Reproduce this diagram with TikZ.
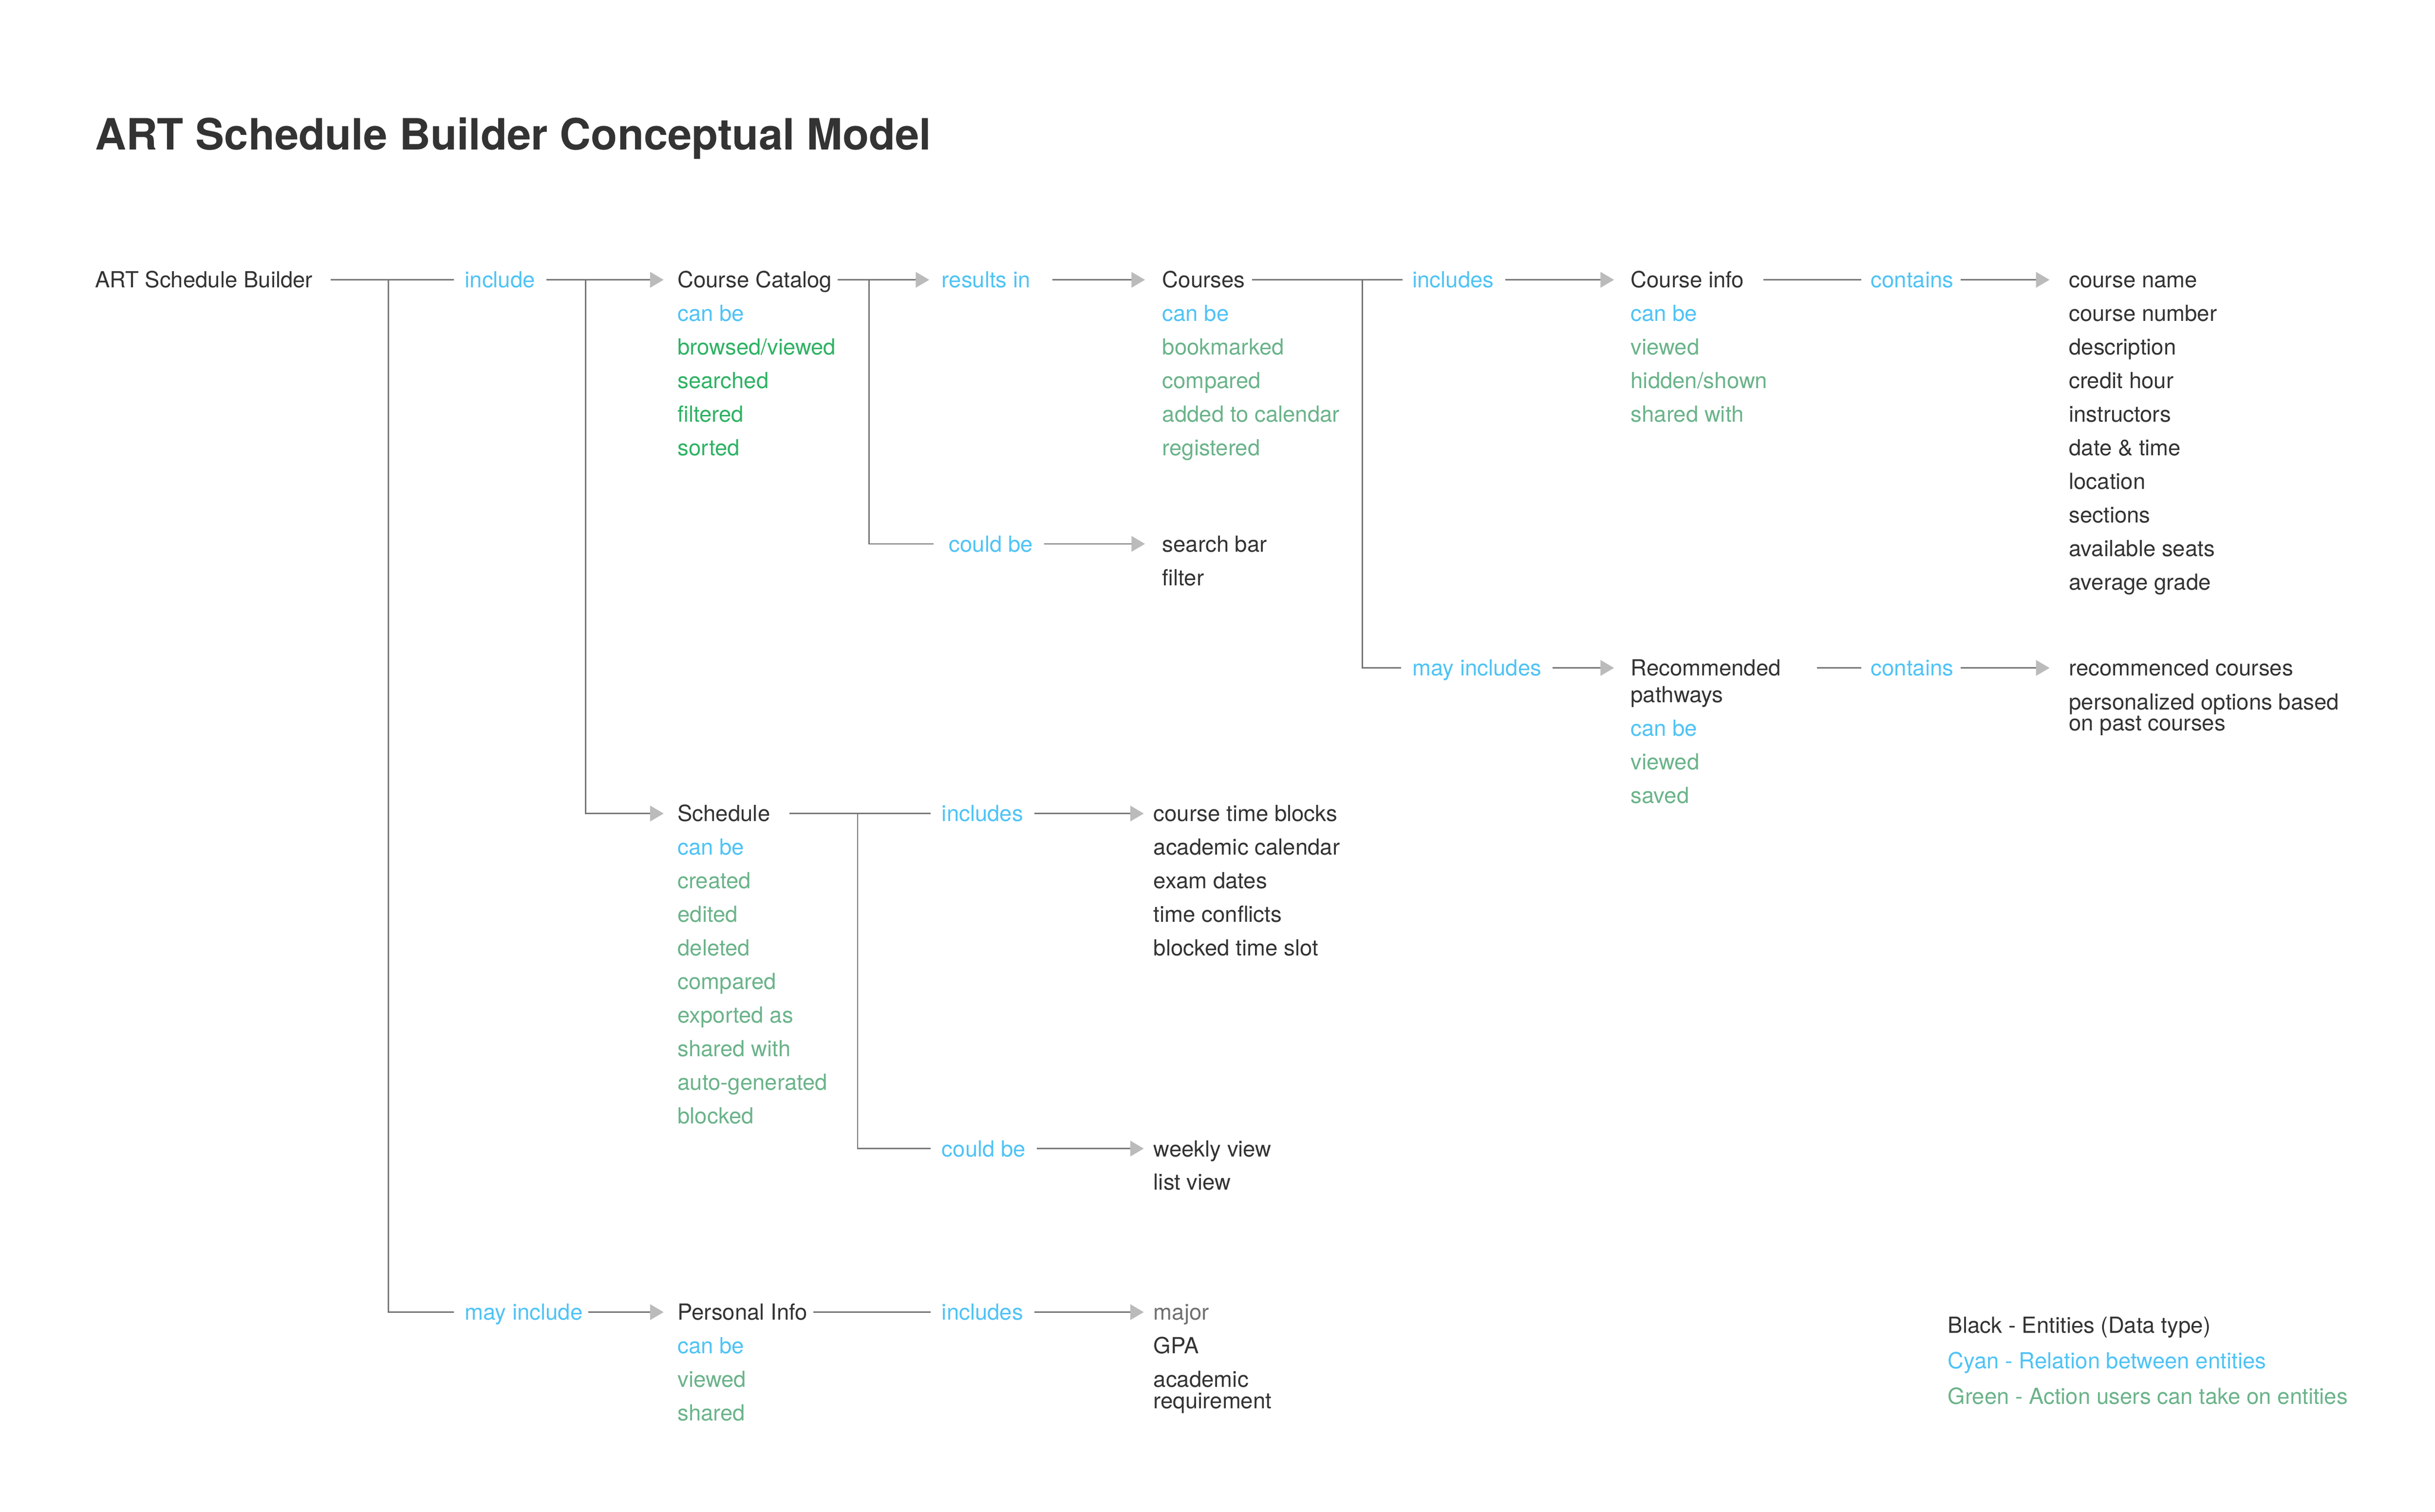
\documentclass[tikz,border=0pt]{standalone}
\usepackage{fontspec}
\setmainfont{TeX Gyre Heros}
\usetikzlibrary{arrows.meta}
\definecolor{ink}{HTML}{333333}
\definecolor{sky}{HTML}{4FC3F5}
\definecolor{leaf}{HTML}{2EB264}
\definecolor{moss}{HTML}{6BB38A}
\definecolor{wire}{HTML}{767676}
\definecolor{tipgray}{HTML}{BBBBBB}
\definecolor{faded}{HTML}{707070}
\newcommand{\bodyfont}{\fontsize{16.2}{19}\selectfont}
\tikzset{
  entity/.style={anchor=west, inner sep=0pt, text height=11.6pt, text depth=0pt, text=ink, font=\bodyfont},
  relation/.style={entity, text=sky},
  action/.style={entity, text=moss},
  link/.style={draw=wire, line width=0.9pt, shorten <=8pt, shorten >=8pt},
  arrowlink/.style={link, -{Triangle[length=9.9pt, width=11.4pt, color=tipgray]}, shorten >=10pt},
  branch/.style={link, shorten <=0pt}
}
\begin{document}
\begin{tikzpicture}[x=0.04006cm, y=-0.04006cm]
  \useasboundingbox (0,0) rectangle (1560.2,968.8);
  \node[anchor=base west, inner sep=0pt, text=ink, font=\fontsize{31.5}{36}\selectfont\bfseries] (title) at (60.7,95.9) {ART Schedule Builder Conceptual Model};

  % first row
  \node[entity] (asb) at (60.7,179.3) {ART Schedule Builder};
  \node[relation] (inc) at (297.7,179.3) {include};
  \node[entity] (cc) at (434,179.3) {Course Catalog};
  \node[relation] (res) at (603.3,179.3) {results in};
  \node[entity] (crs) at (744.6,179.3) {Courses};
  \node[relation] (incs) at (904.9,179.3) {includes};
  \node[entity] (cinfo) at (1044.7,179.3) {Course info};
  \node[relation] (cont) at (1198.6,179.3) {contains};
  \foreach \lbl [count=\i] in {course name, course number, description, credit hour, instructors, date \& time, location, sections, available seats, average grade}
    \node[entity] (ci\i) at (1325.5, {157.8+21.5*\i}) {\lbl};

  \node[relation] (cccan) at (434,200.8) {can be};
  \foreach \lbl [count=\i] in {{browsed/viewed}, searched, filtered, sorted}
    \node[action, text=leaf] (cc\i) at (434, {200.8+21.5*\i}) {\lbl};
  \node[relation] (crscan) at (744.6,200.8) {can be};
  \foreach \lbl [count=\i] in {bookmarked, compared, added to calendar, registered}
    \node[action] (crs\i) at (744.6, {200.8+21.5*\i}) {\lbl};
  \node[relation] (cinfocan) at (1044.7,200.8) {can be};
  \foreach \lbl [count=\i] in {viewed, {hidden/shown}, shared with}
    \node[action] (cinfo\i) at (1044.7, {200.8+21.5*\i}) {\lbl};

  % catalog branch
  \node[relation] (cb1) at (607.9,348.5) {could be};
  \node[entity] (sbar) at (744.6,348.5) {search bar};
  \node[entity] (filt) at (744.6,370) {filter};

  % recommended pathways
  \node[relation] (mincs) at (904.9,428) {may includes};
  \node[entity] (recp) at (1044.7,428) {Recommended};
  \node[entity] (recp2) at (1044.7,445) {pathways};
  \node[relation] (recpcan) at (1044.7,466.5) {can be};
  \node[action] (recp1) at (1044.7,488) {viewed};
  \node[action] (recp3) at (1044.7,509.5) {saved};
  \node[relation] (cont2) at (1198.6,428) {contains};
  \node[entity] (rcrs) at (1325.5,428) {recommenced courses};
  \node[entity] (popt) at (1325.5,449.7) {personalized options based};
  \node[entity] (popt2) at (1325.5,463.2) {on past courses};

  % schedule
  \node[entity] (sched) at (434,521.3) {Schedule};
  \node[relation] (schedcan) at (434,542.8) {can be};
  \foreach \lbl [count=\i] in {created, edited, deleted, compared, exported as, shared with, auto-generated, blocked}
    \node[action] (sched\i) at (434, {542.8+21.5*\i}) {\lbl};
  \node[relation] (incsch) at (603.3,521.3) {includes};
  \foreach \lbl [count=\i] in {course time blocks, academic calendar, exam dates, time conflicts, blocked time slot}
    \node[entity] (st\i) at (739, {499.8+21.5*\i}) {\lbl};
  \node[relation] (cb2) at (603.3,736) {could be};
  \node[entity] (wv) at (739,736) {weekly view};
  \node[entity] (lv) at (739,757.5) {list view};

  % personal info
  \node[relation] (minc) at (297.7,840.8) {may include};
  \node[entity] (pinfo) at (434,840.8) {Personal Info};
  \node[relation] (pinfocan) at (434,862.3) {can be};
  \node[action] (pinfo1) at (434,883.8) {viewed};
  \node[action] (pinfo2) at (434,905.3) {shared};
  \node[relation] (incp) at (603.3,840.8) {includes};
  \node[entity, text=faded] (major) at (739,840.8) {major};
  \node[entity] (gpa) at (739,862.3) {GPA};
  \node[entity] (areq) at (739,883.8) {academic};
  \node[entity] (areq2) at (739,897.6) {requirement};

  % legend
  \node[entity] (lgblack) at (1247.9,849) {Black - Entities (Data type)};
  \node[relation] (lgcyan) at (1247.9,872) {Cyan - Relation between entities};
  \node[action] (lggreen) at (1247.9,894.6) {Green - Action users can take on entities};

  % branch points
  \coordinate (b0) at (248.9,179.3);
  \coordinate (b1) at (375.3,179.3);
  \coordinate (b2) at (556.9,179.3);
  \coordinate (b3) at (873,179.3);
  \coordinate (b4) at (549.5,521.3);

  \draw[link, shorten <=13pt] (asb) -- (inc);
  \draw[arrowlink] (inc) -- (cc);
  \draw[arrowlink, shorten <=4pt, shorten >=9pt] (cc) -- (res);
  \draw[arrowlink, shorten <=16pt, shorten >=12.5pt] (res) -- (crs);
  \draw[link, shorten <=5pt, shorten >=7pt] (crs) -- (incs);
  \draw[arrowlink, shorten >=12pt] (incs) -- (cinfo);
  \draw[link, shorten <=14pt, shorten >=7pt] (cinfo) -- (cont);
  \draw[arrowlink, shorten <=5pt, shorten >=14pt] (cont) -- (ci1);
  \draw[arrowlink, shorten >=12.5pt] (cb1) -- (sbar);
  \draw[arrowlink, shorten >=12pt] (mincs) -- (recp);
  \draw[link, shorten <=26pt, shorten >=7pt] (recp) -- (cont2);
  \draw[arrowlink, shorten <=5pt, shorten >=14pt] (cont2) -- (rcrs);
  \draw[link, shorten <=14pt] (sched) -- (incsch);
  \draw[arrowlink, shorten >=7pt] (incsch) -- (st1);
  \draw[arrowlink, shorten >=7pt] (cb2) -- (wv);
  \draw[arrowlink, shorten <=4pt] (minc) -- (pinfo);
  \draw[link, shorten <=4pt] (pinfo) -- (incp);
  \draw[arrowlink, shorten >=7pt] (incp) -- (major);

  \draw[branch] (b0) |- (minc);
  \draw[branch, -{Triangle[length=9.9pt, width=11.4pt, color=tipgray]}, shorten >=10pt] (b1) |- (sched);
  \draw[branch, shorten >=11pt] (b2) |- (cb1);
  \draw[branch] (b3) |- (mincs);
  \draw[branch] (b4) |- (cb2);
\end{tikzpicture}
\end{document}
